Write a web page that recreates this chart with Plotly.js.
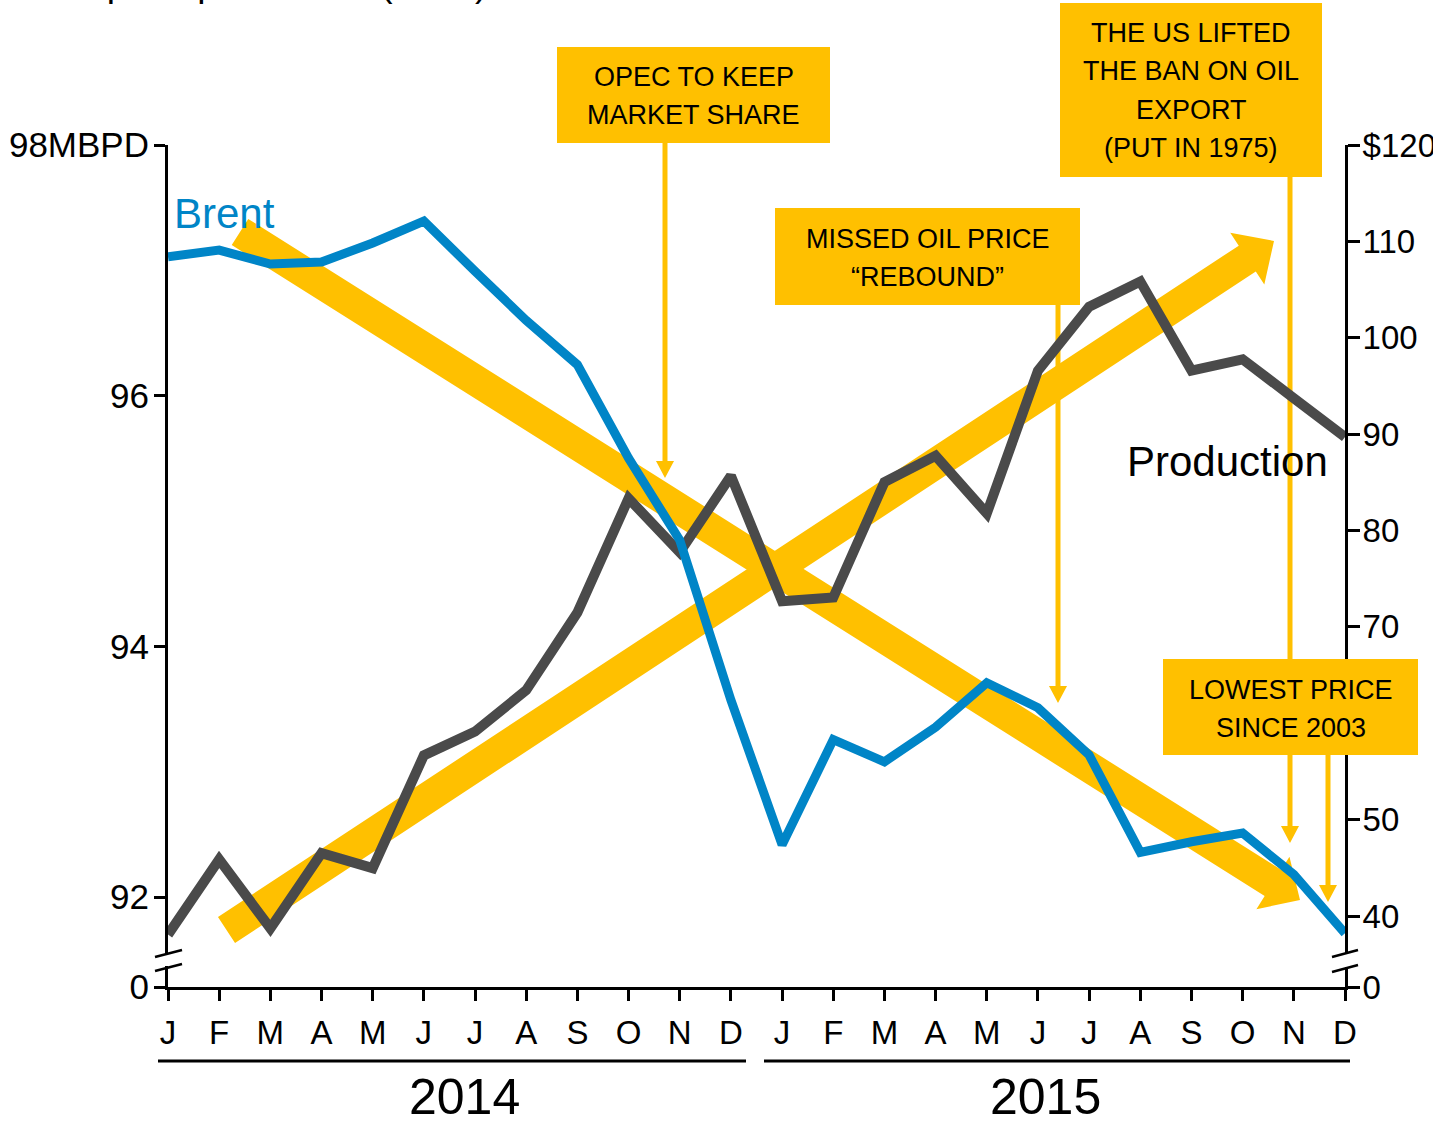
<!DOCTYPE html>
<html><head><meta charset="utf-8">
<script src="https://cdn.plot.ly/plotly-3.0.1.min.js"></script>
<style>html,body{margin:0;padding:0;background:#fff}#chart{width:1433px;height:1122px}</style>
</head><body><div id="chart"></div>
<script>
// ---------- DATA ----------
const months = ['J','F','M','A','M','J','J','A','S','O','N','D','J','F','M','A','M','J','J','A','S','O','N','D'];
const monthIndex = months.map((m, i) => i);
const years = ['2014', '2015'];
// World oil production, million barrels per day (left axis)
const production = [91.70, 92.30, 91.75, 92.35, 92.23, 93.13, 93.32, 93.65, 94.27, 95.18, 94.75, 95.36,
                    94.36, 94.39, 95.31, 95.52, 95.06, 96.20, 96.71, 96.91, 96.20, 96.29, 95.98, 95.67];
// Brent crude price, US$ per barrel (right axis)
const brent = [108.4, 109.1, 107.65, 107.86, 109.83, 112.1, 106.9, 101.8, 97.2, 87.5, 79.0, 62.4,
               47.4, 58.3, 56.0, 59.6, 64.2, 61.6, 56.7, 46.6, 47.7, 48.6, 44.3, 38.2];
const prodTicks = [92, 94, 96, 98];
const prodTickText = ['92', '94', '96', '98MBPD'];
const priceTicks = [40, 50, 60, 70, 80, 90, 100, 110, 120];
const priceTickText = ['40', '50', '', '70', '80', '90', '100', '110', '$120'];
const calloutLines = [
  ['OPEC TO KEEP', 'MARKET SHARE'],
  ['MISSED OIL PRICE', '\u201CREBOUND\u201D'],
  ['THE US LIFTED', 'THE BAN ON OIL', 'EXPORT', '(PUT IN 1975)'],
  ['LOWEST PRICE', 'SINCE 2003']
];
const seriesLabels = ['Brent', 'Production'];
const titleText = 'Brent price/production (2015)';

// ---------- STYLE / LAYOUT ----------
const FONT = 'Liberation Sans, Arial, Helvetica, sans-serif';
const YELLOW = '#FFC000', BLUE = '#0085C7', GREY = '#4A4A4A';
const PLOT = {l: 168, t: 145, w: 1177, h: 842};
const toPx = px => (px - PLOT.l) / PLOT.w;
const toPy = py => (PLOT.t + PLOT.h - py) / PLOT.h;
// broken axes: "0" sits a little below the lowest real tick
const PROD_ZERO = 92 - 90 / (752 / 6);
const PRICE_ZERO = 40 - 71 / (771 / 80);

function arrowPath(x0, y0, x1, y1, bw, hw, hl) {
  const dx = x1 - x0, dy = y1 - y0, len = Math.hypot(dx, dy);
  const ux = dx / len, uy = dy / len, nx = -uy, ny = ux;
  const bx = x1 - ux * hl, by = y1 - uy * hl;
  const pts = [[x0 + nx * bw / 2, y0 + ny * bw / 2], [bx + nx * bw / 2, by + ny * bw / 2],
               [bx + nx * hw / 2, by + ny * hw / 2], [x1, y1],
               [bx - nx * hw / 2, by - ny * hw / 2], [bx - nx * bw / 2, by - ny * bw / 2],
               [x0 - nx * bw / 2, y0 - ny * bw / 2]];
  return 'M' + pts.map(p => toPx(p[0]).toFixed(5) + ',' + toPy(p[1]).toFixed(5)).join('L') + 'Z';
}
function polyShape(path, layer) {
  return {type: 'path', xref: 'paper', yref: 'paper', path: path, fillcolor: YELLOW,
          line: {width: 0}, layer: layer || 'below'};
}
function pline(x0, y0, x1, y1, w, color, layer) {
  return {type: 'line', xref: 'paper', yref: 'paper', x0: toPx(x0), y0: toPy(y0), x1: toPx(x1), y1: toPy(y1),
          line: {color: color || '#000', width: w}, layer: layer || 'above'};
}
function prect(x0, y0, x1, y1, fill) {
  return {type: 'rect', xref: 'paper', yref: 'paper', x0: toPx(x0), y0: toPy(y0), x1: toPx(x1), y1: toPy(y1),
          fillcolor: fill || '#fff', line: {width: 0}, layer: 'above'};
}

const boxes = [
  {x0: 557, y0: 47, x1: 830, y1: 143, cy: 96},
  {x0: 775, y0: 208, x1: 1080, y1: 305, cy: 258},
  {x0: 1060, y0: 3, x1: 1322, y1: 177, cy: 90.5},
  {x0: 1163, y0: 659, x1: 1418, y1: 755, cy: 709}
];
const LINE_GAP = 38.4;

const shapes = [
  // big trend arrows
  polyShape(arrowPath(240, 232, 1300, 900, 31, 62, 32)),
  polyShape(arrowPath(226.5, 930, 1274, 241, 31, 62, 32)),
  // callout pointers
  polyShape(arrowPath(665, 140, 665, 478, 5, 18, 17)),
  polyShape(arrowPath(1058, 302, 1058, 703, 5, 18, 17)),
  polyShape(arrowPath(1290, 174, 1290, 843, 5, 18, 17)),
  polyShape(arrowPath(1328, 752, 1328, 902, 5, 18, 17)),
  // year underlines
  pline(158, 1061, 746, 1061, 3),
  pline(764, 1061, 1350, 1061, 3),
  // axis breaks
  prect(163, 953, 173, 966), prect(1340, 954, 1350, 967),
  pline(155, 957, 182, 950, 2.5), pline(155, 971, 182, 964, 2.5),
  pline(1332, 957, 1358, 950, 2.5), pline(1332, 972, 1358, 965, 2.5)
];
// callout boxes
boxes.forEach(b => shapes.push(prect(b.x0, b.y0, b.x1, b.y1, YELLOW)));

const annotations = [];
boxes.forEach((b, i) => {
  const lines = calloutLines[i];
  const cx = (b.x0 + b.x1) / 2;
  lines.forEach((t, k) => {
    const cy = b.cy + (k - (lines.length - 1) / 2) * LINE_GAP;
    annotations.push({xref: 'paper', yref: 'paper', x: toPx(cx), y: toPy(cy), xanchor: 'center', yanchor: 'middle',
      showarrow: false, text: t, font: {family: FONT, size: 27, color: '#000'}});
  });
});
annotations.push(
  {xref: 'paper', yref: 'paper', x: toPx(172), y: toPy(213), xanchor: 'left', yanchor: 'middle',
   showarrow: false, text: seriesLabels[0], font: {family: FONT, size: 42, color: BLUE}},
  {xref: 'paper', yref: 'paper', x: toPx(1227), y: toPy(461), xanchor: 'center', yanchor: 'middle',
   showarrow: false, text: seriesLabels[1], font: {family: FONT, size: 42, color: '#000'}},
  {xref: 'paper', yref: 'paper', x: toPx(465), y: toPy(1097), xanchor: 'center', yanchor: 'middle',
   showarrow: false, text: years[0], font: {family: FONT, size: 50, color: '#000'}},
  {xref: 'paper', yref: 'paper', x: toPx(1045), y: toPy(1097), xanchor: 'center', yanchor: 'middle',
   showarrow: false, text: years[1], font: {family: FONT, size: 50, color: '#000'}},
  {xref: 'paper', yref: 'paper', x: toPx(6), y: toPy(-16), xanchor: 'left', yanchor: 'middle',
   showarrow: false, text: titleText, font: {family: FONT, size: 37, color: '#000'}}
);

const traces = [
  {type: 'scatter', mode: 'lines', x: monthIndex, y: production, yaxis: 'y',
   line: {color: GREY, width: 10}, hoverinfo: 'skip'},
  {type: 'scatter', mode: 'lines', x: monthIndex, y: brent, yaxis: 'y2',
   line: {color: BLUE, width: 9}, hoverinfo: 'skip'}
];

const axisCommon = {showline: true, linewidth: 3, linecolor: '#000', ticks: 'outside', tickwidth: 3,
                    tickcolor: '#000', showgrid: false, zeroline: false, fixedrange: true,
                    tickfont: {family: FONT, size: 33, color: '#000'}};
const layout = {
  width: 1433, height: 1122, margin: {l: PLOT.l, r: 1433 - PLOT.l - PLOT.w, t: PLOT.t, b: 1122 - PLOT.t - PLOT.h},
  paper_bgcolor: '#fff', plot_bgcolor: 'rgba(0,0,0,0)', showlegend: false,
  font: {family: FONT, color: '#000'},
  xaxis: Object.assign({}, axisCommon, {range: [0, 23], tickmode: 'array', tickvals: monthIndex,
                       ticktext: months, ticklen: 11, ticklabelstandoff: 3}),
  yaxis: Object.assign({}, axisCommon, {range: [PROD_ZERO, 98], tickmode: 'array',
                       tickvals: [PROD_ZERO].concat(prodTicks), ticktext: ['0'].concat(prodTickText), ticklen: 11,
                       tickfont: {family: FONT, size: 35, color: '#000'}, ticklabelstandoff: -2}),
  yaxis2: Object.assign({}, axisCommon, {overlaying: 'y', side: 'right', range: [PRICE_ZERO, 120],
                        tickmode: 'array', tickvals: [PRICE_ZERO].concat(priceTicks),
                        ticktext: ['0'].concat(priceTickText), ticklen: 12, ticklabelstandoff: -4}),
  shapes: shapes,
  annotations: annotations
};
Plotly.newPlot('chart', traces, layout, {displayModeBar: false, staticPlot: true});
</script></body></html>
